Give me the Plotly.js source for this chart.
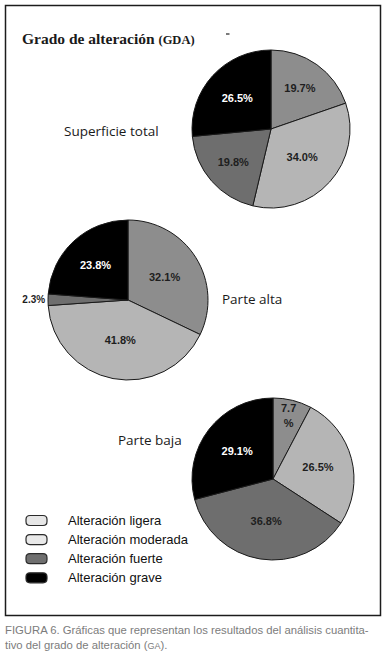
<!DOCTYPE html>
<html>
<head>
<meta charset="utf-8">
<script src="https://cdn.plot.ly/plotly-3.0.1.min.js"></script>
<style>
html,body{margin:0;padding:0;background:#fff;}
#chart{width:386px;height:658px;}
</style>
</head>
<body>
<div id="chart"></div>
<script>
// ---- Data ----
const categories = ['Alteración ligera', 'Alteración moderada', 'Alteración fuerte', 'Alteración grave'];
const pieNames = ['Superficie total', 'Parte alta', 'Parte baja'];
const superficieTotal = [19.7, 34.0, 19.8, 26.5];
const parteAlta = [32.1, 41.8, 2.3, 23.8];
const parteBaja = [7.7, 26.5, 36.8, 29.1];
const chartTitle = 'Grado de alteración';
const chartTitleAbbr = '(GDA)';
const captionLine1 = 'FIGURA 6. Gráficas que representan los resultados del análisis cuantita-';
const captionLine2 = 'tivo del grado de alteración (';
const captionAbbr = 'GA';

// ---- Styles ----
const W = 386, H = 658;
const sliceColors = ['#8d8d8d', '#b5b5b5', '#6e6e6e', '#000000'];
const textColors = ['#1e1e1e', '#1e1e1e', '#1e1e1e', '#ffffff'];
const legendColors = ['#e6e6e6', '#e9e9e9', '#6f6f6f', '#000000'];
const px = x => x / W;
const py = y => 1 - y / H;

function pieDomain(cx, cy, r) {
  return { x: [px(cx - r), px(cx + r)], y: [py(cy + r), py(cy - r)] };
}
function fmt(v) { return v.toFixed(1) + '%'; }

const pies = [
  { name: pieNames[0], values: superficieTotal, dom: pieDomain(271, 129, 79),
    text: superficieTotal.map(fmt), pos: ['inside', 'inside', 'inside', 'inside'] },
  { name: pieNames[1], values: parteAlta, dom: pieDomain(128, 300, 80),
    text: parteAlta.map(fmt), pos: ['inside', 'inside', 'outside', 'inside'] },
  { name: pieNames[2], values: parteBaja, dom: pieDomain(273, 479, 81),
    text: parteBaja.map(v => v < 10 ? v.toFixed(1) + '<br>%' : fmt(v)),
    pos: ['inside', 'inside', 'inside', 'inside'] }
];

const traces = pies.map(p => ({
  type: 'pie',
  name: p.name,
  labels: categories,
  values: p.values,
  text: p.text,
  textinfo: 'text',
  textposition: p.pos,
  insidetextorientation: 'horizontal',
  sort: false,
  direction: 'clockwise',
  rotation: 0,
  domain: p.dom,
  showlegend: false,
  hoverinfo: 'label+percent',
  marker: { colors: sliceColors, line: { color: '#1a1a1a', width: 1 } },
  textfont: { family: 'Liberation Sans, Arial, sans-serif', size: 11, color: textColors, weight: 'bold' },
  insidetextfont: { family: 'Liberation Sans, Arial, sans-serif', size: 11, color: textColors, weight: 'bold' },
  outsidetextfont: { family: 'Liberation Sans, Arial, sans-serif', size: 10, color: '#1e1e1e', weight: 'bold' }
}));

const annotations = [];
const shapes = [];

// Frame
shapes.push({ type: 'rect', xref: 'paper', yref: 'paper',
  x0: px(5.5), x1: px(380.5), y0: py(615.5), y1: py(5.5),
  line: { color: '#1c1c1c', width: 1.5 }, fillcolor: 'rgba(0,0,0,0)' });
// small stray dash near title
shapes.push({ type: 'line', xref: 'paper', yref: 'paper',
  x0: px(226), x1: px(229.5), y0: py(34), y1: py(34), line: { color: '#222', width: 1.2 } });

// Title
annotations.push({ xref: 'paper', yref: 'paper', x: px(20), y: py(38), xanchor: 'left', yanchor: 'middle',
  showarrow: false, text: '<b>' + chartTitle + ' <span style="font-size:12.5px">' + chartTitleAbbr + '</span></b>',
  font: { family: 'Liberation Serif, Times New Roman, serif', size: 15.5, color: '#1a1a1a' } });

// Pie names
const nameSpots = [[111, 131, 'center'], [220, 299, 'left'], [150, 440, 'center']];
pieNames.forEach((n, i) => {
  annotations.push({ xref: 'paper', yref: 'paper', x: px(nameSpots[i][0]), y: py(nameSpots[i][1]),
    xanchor: nameSpots[i][2], yanchor: 'middle', showarrow: false, text: n,
    font: { family: 'Open Sans, sans-serif', size: 13.5, color: '#1a1a1a' } });
});

// Legend
categories.forEach((c, i) => {
  const yc = 520.5 + i * 19.1;
  const x0 = 26, x1 = 47, y0 = yc - 5, y1 = yc + 5, r = 4;
  const path = `M ${px(x0 + r)},${py(y0)} L ${px(x1 - r)},${py(y0)} Q ${px(x1)},${py(y0)} ${px(x1)},${py(y0 + r)} ` +
    `L ${px(x1)},${py(y1 - r)} Q ${px(x1)},${py(y1)} ${px(x1 - r)},${py(y1)} L ${px(x0 + r)},${py(y1)} ` +
    `Q ${px(x0)},${py(y1)} ${px(x0)},${py(y1 - r)} L ${px(x0)},${py(y0 + r)} Q ${px(x0)},${py(y0)} ${px(x0 + r)},${py(y0)} Z`;
  shapes.push({ type: 'path', xref: 'paper', yref: 'paper', path: path,
    fillcolor: legendColors[i], line: { color: '#2a2a2a', width: 1.2 } });
  annotations.push({ xref: 'paper', yref: 'paper', x: px(66), y: py(yc), xanchor: 'left', yanchor: 'middle',
    showarrow: false, text: c, font: { family: 'Liberation Sans, Arial, sans-serif', size: 13, color: '#111' } });
});

// Caption
annotations.push({ xref: 'paper', yref: 'paper', x: px(3), y: py(630), xanchor: 'left', yanchor: 'middle',
  showarrow: false, text: captionLine1,
  font: { family: 'Liberation Sans, Arial, sans-serif', size: 11.3, color: '#7c7c7c' } });
annotations.push({ xref: 'paper', yref: 'paper', x: px(3), y: py(645), xanchor: 'left', yanchor: 'middle',
  showarrow: false, text: captionLine2 + '<span style="font-size:9px">' + captionAbbr + '</span>).',
  font: { family: 'Liberation Sans, Arial, sans-serif', size: 11.3, color: '#7c7c7c' } });

const layout = {
  width: W, height: H,
  margin: { l: 0, r: 0, t: 0, b: 0 },
  paper_bgcolor: '#ffffff',
  plot_bgcolor: '#ffffff',
  showlegend: false,
  shapes: shapes,
  annotations: annotations
};

Plotly.newPlot('chart', traces, layout, { displayModeBar: false, staticPlot: true });
</script>
</body>
</html>
